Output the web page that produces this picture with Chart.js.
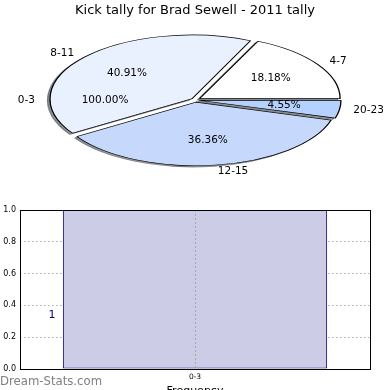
<!DOCTYPE html>
<html lang="en">
<head>
  <meta charset="UTF-8">
  <title>Kick tally for Brad Sewell - 2011 tally</title>
  <script src="https://cdn.jsdelivr.net/npm/chart.js"></script>
  <style>
    html, body { margin: 0; padding: 0; background: #fff; overflow: hidden; }
    body { width: 390px; height: 390px; position: relative; font-family: 'DejaVu Sans', sans-serif; }
    #bar { position: absolute; left: 0; top: 195px; }
    #pie { position: absolute; left: 0; top: 0; }
    .mark { position: absolute; left: 0; top: 374px; color: #808080; font-size: 11.7px; line-height: 14px; }
  </style>
</head>
<body>
  <canvas id="bar" width="390" height="205"></canvas>
  <canvas id="pie" width="390" height="200"></canvas>
  <div class="mark">Dream-Stats.com</div>

  <script>
    // data
    const pieTitle = 'Kick tally for Brad Sewell - 2011 tally';
    const pieLabels = ['20-23', '12-15', '8-11', '4-7'];
    const pieValues = [1, 8, 9, 4];
    const ghostLabel = '0-3';       // empty wedge the original still labels
    const ghostPct = '100.00%';
    const barLabels = ['0-3'];
    const barValues = [1];
    const barTitle = 'Frequency';

    // look
    const pieColors = ['#b5d2fe', '#c6d9fd', '#eaf1fe', '#ffffff'];
    const EXPLODE = 6;      // px each wedge is pulled out
    const SQUASH = 0.45;    // pie is drawn as an ellipse
    const PIE_CX = 195, PIE_CY = 100;

    Chart.defaults.font.family = "'DejaVu Sans', sans-serif";
    Chart.defaults.color = '#000';

    const total = pieValues.reduce((a, b) => a + b, 0);

    // chart.js shifts an arc by offset/4 * (2 - sin(angle)); undo that so all move EXPLODE px
    function arcOffset(c) {
      const circ = c.raw / total * 2 * Math.PI;
      const fix = 1 - Math.sin(Math.min(Math.PI, circ));
      return EXPLODE * 4 / (1 + fix);
    }

    const pieLook = {
      id: 'pieLook',
      beforeDatasetsDraw(chart) {
        const ctx = chart.ctx;
        const arcs = chart.getDatasetMeta(0).data;
        const cx = arcs[0].x, cy = arcs[0].y;
        ctx.save();
        ctx.translate(PIE_CX, PIE_CY);
        ctx.scale(1, SQUASH);
        ctx.translate(-cx, -cy);
        // drop shadow under every wedge
        arcs.forEach(a => {
          const opts = a.options;
          a.options = Object.assign({}, opts, {
            backgroundColor: 'rgba(55,60,70,0.55)',
            borderColor: 'rgba(55,60,70,0.55)'
          });
          ctx.save();
          ctx.translate(-2.5, 1.4 / SQUASH);
          a.draw(ctx);
          ctx.restore();
          a.options = opts;
        });
      },
      afterDatasetsDraw(chart) {
        const ctx = chart.ctx;
        ctx.restore();
        const arcs = chart.getDatasetMeta(0).data;
        const at = (ang, dist) => [
          PIE_CX + Math.cos(ang) * dist,
          PIE_CY + Math.sin(ang) * dist * SQUASH
        ];
        ctx.save();
        ctx.font = "10.5px 'DejaVu Sans'";
        ctx.fillStyle = '#000';
        ctx.textBaseline = 'middle';
        const put = (ang, r, label, pct) => {
          const p = at(ang, EXPLODE + 1.1 * r);
          ctx.textAlign = Math.cos(ang) < 0 ? 'right' : 'left';
          ctx.fillText(label, p[0], p[1]);
          const q = at(ang, EXPLODE + 0.6 * r);
          ctx.textAlign = 'center';
          ctx.fillText(pct, q[0], q[1]);
        };
        arcs.forEach((a, i) => {
          const mid = (a.startAngle + a.endAngle) / 2;
          put(mid, a.outerRadius, pieLabels[i], (pieValues[i] / total * 100).toFixed(2) + '%');
        });
        put(Math.PI, arcs[0].outerRadius, ghostLabel, ghostPct);
        ctx.restore();
      }
    };

    new Chart(document.getElementById('pie'), {
      type: 'pie',
      data: {
        labels: pieLabels,
        datasets: [{
          data: pieValues,
          backgroundColor: pieColors,
          borderColor: '#000',
          borderWidth: 1.3,
          offset: arcOffset,
          clip: false
        }]
      },
      options: {
        responsive: false,
        animation: false,
        events: [],
        rotation: 90,
        radius: 140,
        layout: { padding: { bottom: 27 } },
        plugins: {
          legend: { display: false },
          tooltip: { enabled: false },
          title: {
            display: true,
            text: pieTitle,
            font: { size: 13, weight: 'normal' },
            color: '#000',
            padding: { top: 3, bottom: 8 }
          }
        }
      },
      plugins: [pieLook]
    });

    const barLook = {
      id: 'barLook',
      afterDraw(chart) {
        const ctx = chart.ctx;
        const a = chart.chartArea;
        ctx.save();
        // dotted guide through the category centre
        const xs = chart.scales.x;
        const gx = Math.round(xs.getPixelForTick(0)) + 0.5;
        ctx.strokeStyle = '#a8a8a8';
        ctx.setLineDash([2, 2]);
        ctx.beginPath();
        ctx.moveTo(gx, a.top);
        ctx.lineTo(gx, a.bottom);
        ctx.stroke();
        ctx.setLineDash([]);
        // axes frame
        ctx.strokeStyle = '#000';
        ctx.lineWidth = 1;
        ctx.strokeRect(Math.round(a.left) + 0.5, Math.round(a.top) + 0.5,
          Math.round(a.right - a.left), Math.round(a.bottom - a.top));
        // value label left of the bar
        const bar = chart.getDatasetMeta(0).data[0];
        const y = chart.scales.y.getPixelForValue(barValues[0] * 0.34);
        ctx.font = "11px 'DejaVu Sans'";
        ctx.fillStyle = '#000080';
        ctx.textAlign = 'center';
        ctx.textBaseline = 'middle';
        ctx.fillText(String(barValues[0]), bar.x - bar.width / 2 - 11, y);
        ctx.restore();
      }
    };

    new Chart(document.getElementById('bar'), {
      type: 'bar',
      data: {
        labels: barLabels,
        datasets: [{
          data: barValues,
          backgroundColor: '#cccce6',
          borderColor: '#000080',
          borderWidth: 1,
          borderSkipped: false,
          barPercentage: 0.755,
          categoryPercentage: 1
        }]
      },
      options: {
        responsive: false,
        animation: false,
        events: [],
        layout: { padding: { left: 0, right: 20, top: 15, bottom: 0 } },
        plugins: { legend: { display: false }, tooltip: { enabled: false } },
        scales: {
          x: {
            offset: true,
            grid: { display: false, drawTicks: false },
            border: { display: false },
            ticks: { font: { size: 7.5 }, color: '#000', padding: 4 },
            title: { display: true, text: barTitle, font: { size: 11 }, color: '#000', padding: { top: 0, bottom: 2 } },
            afterFit(s) { s.height = 31; }
          },
          y: {
            z: 1,
            min: 0,
            max: 1,
            grid: { color: '#b0b0b0', lineWidth: 1, drawTicks: false },
            border: { display: false, dash: [1.5, 2.5] },
            ticks: { stepSize: 0.2, font: { size: 8 }, color: '#000', padding: 4,
              callback: v => v.toFixed(1) },
            afterFit(s) { s.width = 20; }
          }
        }
      },
      plugins: [barLook]
    });
  </script>
</body>
</html>
